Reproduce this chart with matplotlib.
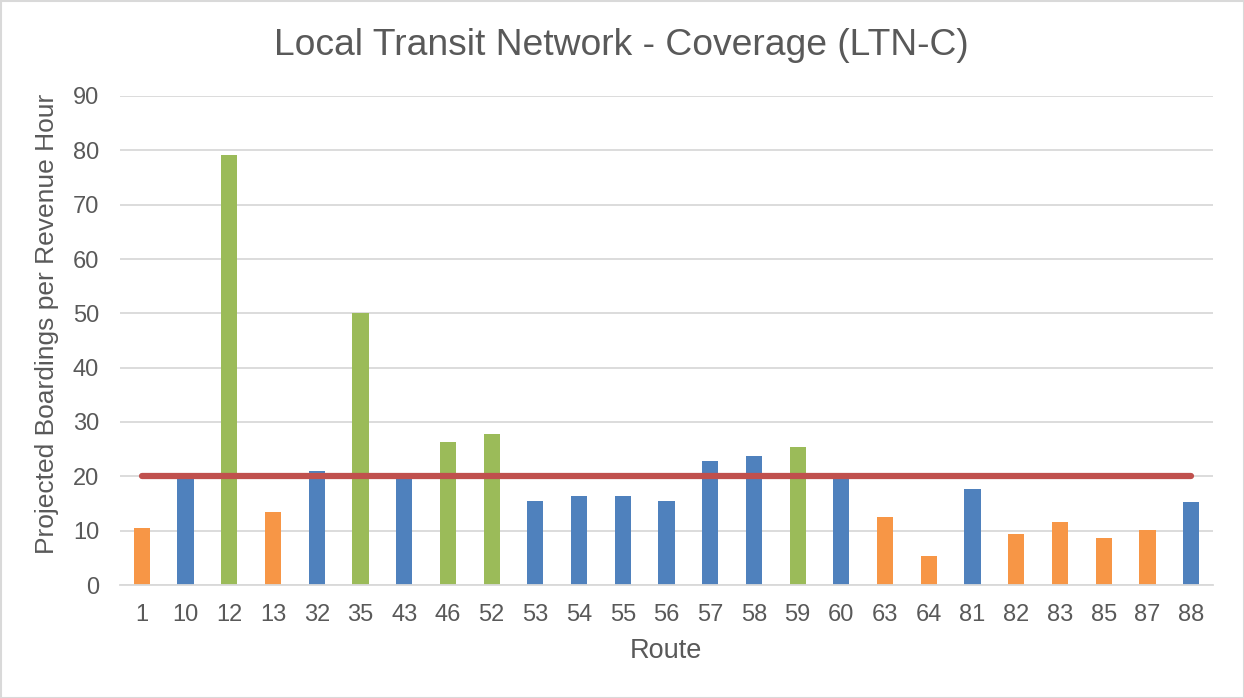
import matplotlib.pyplot as plt
from matplotlib.patches import Rectangle

plt.rcParams["font.family"] = ["Liberation Sans", "DejaVu Sans"]

# route labels and projected boardings per revenue hour
routes = ["1", "10", "12", "13", "32", "35", "43", "46", "52", "53", "54", "55", "56",
          "57", "58", "59", "60", "63", "64", "81", "82", "83", "85", "87", "88"]
boardings = [10.5, 19.8, 79.1, 13.5, 21.0, 50.0, 19.8, 26.4, 27.7, 15.4, 16.3, 16.4, 15.4,
             22.8, 23.7, 25.4, 19.8, 12.6, 5.4, 17.6, 9.4, 11.6, 8.7, 10.1, 15.2]
# performance group of each route
groups = ["low", "mid", "high", "low", "mid", "high", "mid", "high", "high", "mid", "mid", "mid", "mid",
          "mid", "mid", "high", "mid", "low", "low", "mid", "low", "low", "low", "low", "mid"]
target = 20

GROUP_COLORS = {"low": "#F79646", "mid": "#4F81BD", "high": "#9BBB59"}
TEXT = "#595959"
W, H = 1244, 698

fig = plt.figure(figsize=(W / 100, H / 100), dpi=100)
ax = fig.add_axes([120 / W, 1 - 585 / H, 1093 / W, 489 / H])

x = list(range(len(routes)))
ax.bar(x, boardings, width=0.37, color=[GROUP_COLORS[g] for g in groups], zorder=2)
ax.plot([x[0], x[-1]], [target, target], color="#C0504D", linewidth=4.5,
        solid_capstyle="round", zorder=3)

ax.set_xlim(-0.5, len(routes) - 0.5)
ax.set_ylim(0, 90)
ax.set_yticks(range(0, 91, 10))
ax.set_xticks(x)
ax.set_xticklabels(routes)
ax.grid(axis="y", color="#D9D9D9", linewidth=1.3, zorder=0)
ax.set_axisbelow(True)
for s in ["top", "right", "left"]:
    ax.spines[s].set_visible(False)
ax.spines["bottom"].set_color("#D9D9D9")
ax.spines["bottom"].set_linewidth(1.3)
ax.tick_params(axis="both", length=0, labelsize=17, colors=TEXT)
ax.tick_params(axis="y", pad=15)
ax.tick_params(axis="x", pad=13.5)

fig.text(666 / W, 1 - 651 / H, "Route", ha="center", va="center", fontsize=19.5, color=TEXT)
fig.text(47 / W, 1 - 324 / H, "Projected Boardings per Revenue Hour", ha="center", va="center",
         rotation=90, fontsize=19, color=TEXT)
fig.text(621 / W, 1 - 55 / H, "Local Transit Network - Coverage (LTN-C)", ha="center", va="baseline",
         fontsize=26.8, color=TEXT)

fig.patches.append(Rectangle((0.5 / W, 0.5 / H), 1 - 1 / W, 1 - 1 / H, transform=fig.transFigure,
                             fill=False, edgecolor="#D9D9D9", linewidth=1.5))

fig.savefig("out.png", dpi=100)
